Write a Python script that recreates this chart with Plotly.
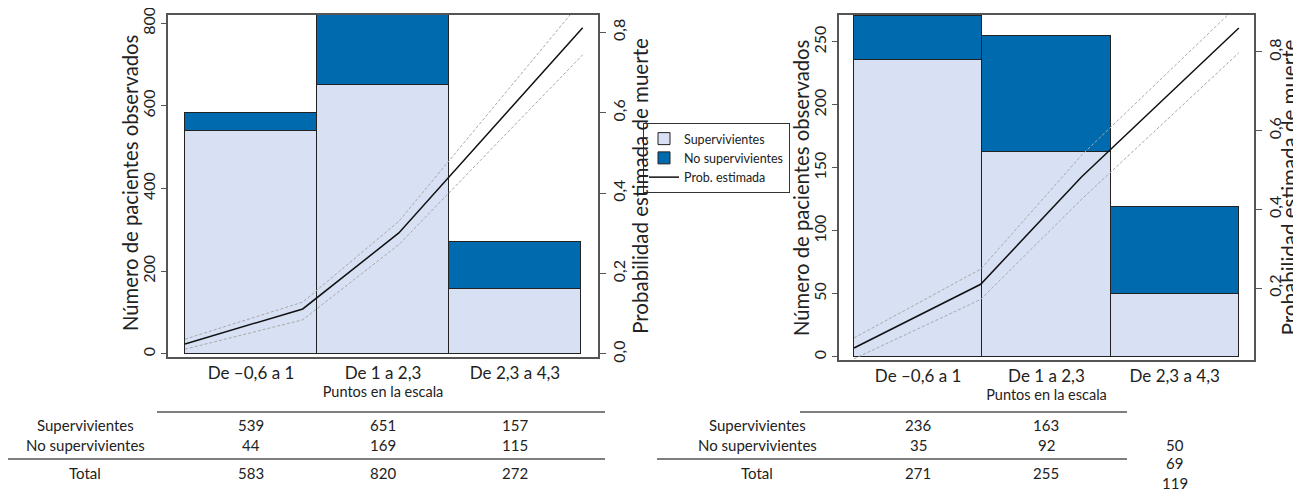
import plotly.graph_objects as go

# ---------------- data ----------------
categories = ["De \u20130,6 a 1", "De 1 a 2,3", "De 2,3 a 4,3"]
row_labels = ["Supervivientes", "No supervivientes", "Total"]
y_title = "Número de pacientes observados"
y2_title = "Probabilidad estimada de muerte"
x_title = "Puntos en la escala"

# left panel
surv_l = [539, 651, 157]
nonsurv_l = [44, 169, 115]
total_l = [583, 820, 272]
score_l = [-0.5, 0.392, 1.12, 2.513]
prob_l = [0.025, 0.112, 0.301, 0.811]
prob_up_l = [0.037, 0.129, 0.330, 0.881]
prob_lo_l = [0.012, 0.085, 0.272, 0.744]

# right panel
surv_r = [236, 163, 50]
nonsurv_r = [35, 92, 69]
total_r = [271, 255, 119]
score_r = [-0.5, 0.4875, 1.275, 2.50]
prob_r = [0.0475, 0.2095, 0.483, 0.861]
prob_up_r = [0.073, 0.248, 0.538, 0.921]
prob_lo_r = [0.020, 0.171, 0.426, 0.798]

# ---------------- style ----------------
FONT = "Lato"
LIGHT = "#D8E0F3"
DARK = "#006AAF"
EDGE = "#222222"
FRAME = "#555555"
CI = "#A8A8A8"
OFF = 8                      # page body margin
W, H = 1301 - OFF, 499 - OFF

xpos = list(range(len(categories)))

fig = go.Figure()

def add_panel(xa, ya, ya2, surv, nonsurv, score, prob, up, lo, show):
    fig.add_trace(go.Bar(x=xpos, y=surv, width=1, name="Supervivientes",
                         marker=dict(color=LIGHT, line=dict(color=EDGE, width=1)),
                         xaxis=xa, yaxis=ya, showlegend=show))
    fig.add_trace(go.Bar(x=xpos, y=nonsurv, width=1, name="No supervivientes",
                         marker=dict(color=DARK, line=dict(color=EDGE, width=1)),
                         xaxis=xa, yaxis=ya, showlegend=show))
    for arr in (up, lo):
        fig.add_trace(go.Scatter(x=score, y=arr, mode="lines",
                                 line=dict(color=CI, width=1, dash="3px,2px"),
                                 xaxis=xa, yaxis=ya2, showlegend=False, hoverinfo="skip"))
    fig.add_trace(go.Scatter(x=score, y=prob, mode="lines", name="Prob. estimada",
                             line=dict(color="#111111", width=1.5),
                             xaxis=xa, yaxis=ya2, showlegend=show))

add_panel("x", "y", "y2", surv_l, nonsurv_l, score_l, prob_l, prob_up_l, prob_lo_l, True)
add_panel("x2", "y3", "y4", surv_r, nonsurv_r, score_r, prob_r, prob_up_r, prob_lo_r, False)

def px_x(p):
    return (p - OFF) / W

def px_y(p):
    return 1 - (p - OFF) / H

common_x = dict(tickmode="array", tickvals=xpos, ticktext=categories, showgrid=False,
                zeroline=False, showline=True, linecolor=FRAME, linewidth=1.5, mirror=True,
                ticks="", tickfont=dict(size=17, color="#222"), automargin=False,
                title=dict(text=x_title, font=dict(size=14.5, color="#222"), standoff=2))
common_y = dict(showgrid=False, zeroline=False, showline=True, linecolor=FRAME, linewidth=1.5,
                ticks="outside", tickcolor=FRAME, tickangle=-90, automargin=False,
                tickfont=dict(size=16, color="#222"))

fig.update_layout(
    width=W, height=H, margin=dict(l=0, r=0, t=0, b=0),
    paper_bgcolor="white", plot_bgcolor="white",
    font=dict(family=FONT, color="#222"),
    separators=", ",
    barmode="stack", bargap=0,
    showlegend=True,
    legend=dict(x=px_x(643), y=px_y(123), xanchor="left", yanchor="top",
                bgcolor="white", bordercolor="#333", borderwidth=1, traceorder="normal",
                font=dict(size=12.5, family=FONT, color="#222"), tracegroupgap=0,
                itemwidth=30),
    xaxis=dict(domain=[px_x(168), px_x(598)], range=[-0.629, 2.629], anchor="y", **common_x),
    yaxis=dict(domain=[px_y(357), px_y(15)], range=[-7.3, 819.8], anchor="x",
               tickvals=[0, 200, 400, 600, 800], ticklen=5, ticklabeloverflow="allow",
               **common_y),
    yaxis2=dict(overlaying="y", side="right", anchor="x", range=[-0.0075, 0.843],
                tickvals=[0, 0.2, 0.4, 0.6, 0.8], tickformat=".1f", ticklen=6,
                title=dict(text=y2_title, font=dict(size=20.5), standoff=0),
                **common_y),
    xaxis2=dict(domain=[px_x(839), px_x(1254)], range=[-0.617, 2.618], anchor="y3", **common_x),
    yaxis3=dict(domain=[px_y(360), px_y(15)], range=[-2.4, 271.4], anchor="x2",
                tickvals=[0, 50, 100, 150, 200, 250], ticklen=5, ticklabeloverflow="allow",
                **common_y),
    yaxis4=dict(overlaying="y3", side="right", anchor="x2", range=[0.017, 0.894],
                tickvals=[0.2, 0.4, 0.6, 0.8], tickformat=".1f", ticklen=6,
                title=dict(text=y2_title, font=dict(size=20.5), standoff=0),
                **common_y),
)

ann = []
# left vertical axis titles
for tx, ty in ((130, 183), (801, 188)):
    ann.append(dict(x=px_x(tx), y=px_y(ty), xref="paper", yref="paper", text=y_title,
                    textangle=-90, showarrow=False, font=dict(size=20.3, family=FONT, color="#222"),
                    xanchor="center", yanchor="middle"))

# ---------------- tables ----------------
row_y = [px_y(425), px_y(445), px_y(473)]
TFONT = dict(size=15, family=FONT, color="#222")
for lab_x in (px_x(85), px_x(757)):
    for lab, yy in zip(row_labels, row_y):
        ann.append(dict(x=lab_x, y=yy, xref="paper", yref="paper", text=lab, showarrow=False,
                        font=TFONT, xanchor="center", yanchor="middle"))
for i in xpos:
    for vals, yy in zip((surv_l, nonsurv_l, total_l), row_y):
        ann.append(dict(x=i, y=yy, xref="x", yref="paper", text=str(vals[i]), showarrow=False,
                        font=TFONT, xanchor="center", yanchor="middle"))
# right table (as printed, last column shifted)
right_rows = [row_y, row_y, [px_y(445), px_y(463), px_y(483)]]
for i in xpos:
    for vals, yy in zip((surv_r, nonsurv_r, total_r), right_rows[i]):
        ann.append(dict(x=i, y=yy, xref="x2", yref="paper", text=str(vals[i]), showarrow=False,
                        font=TFONT, xanchor="center", yanchor="middle"))
fig.update_layout(annotations=ann)

shapes = []
for x0, x1, yy in ((157, 605, 412), (5, 605, 459), (800, 1127, 412), (657, 1127, 459)):
    shapes.append(dict(type="line", xref="paper", yref="paper", x0=px_x(x0), x1=px_x(x1),
                       y0=px_y(yy), y1=px_y(yy), line=dict(color="#555", width=1.5)))
fig.update_layout(shapes=shapes)

fig.write_html("out.html")
